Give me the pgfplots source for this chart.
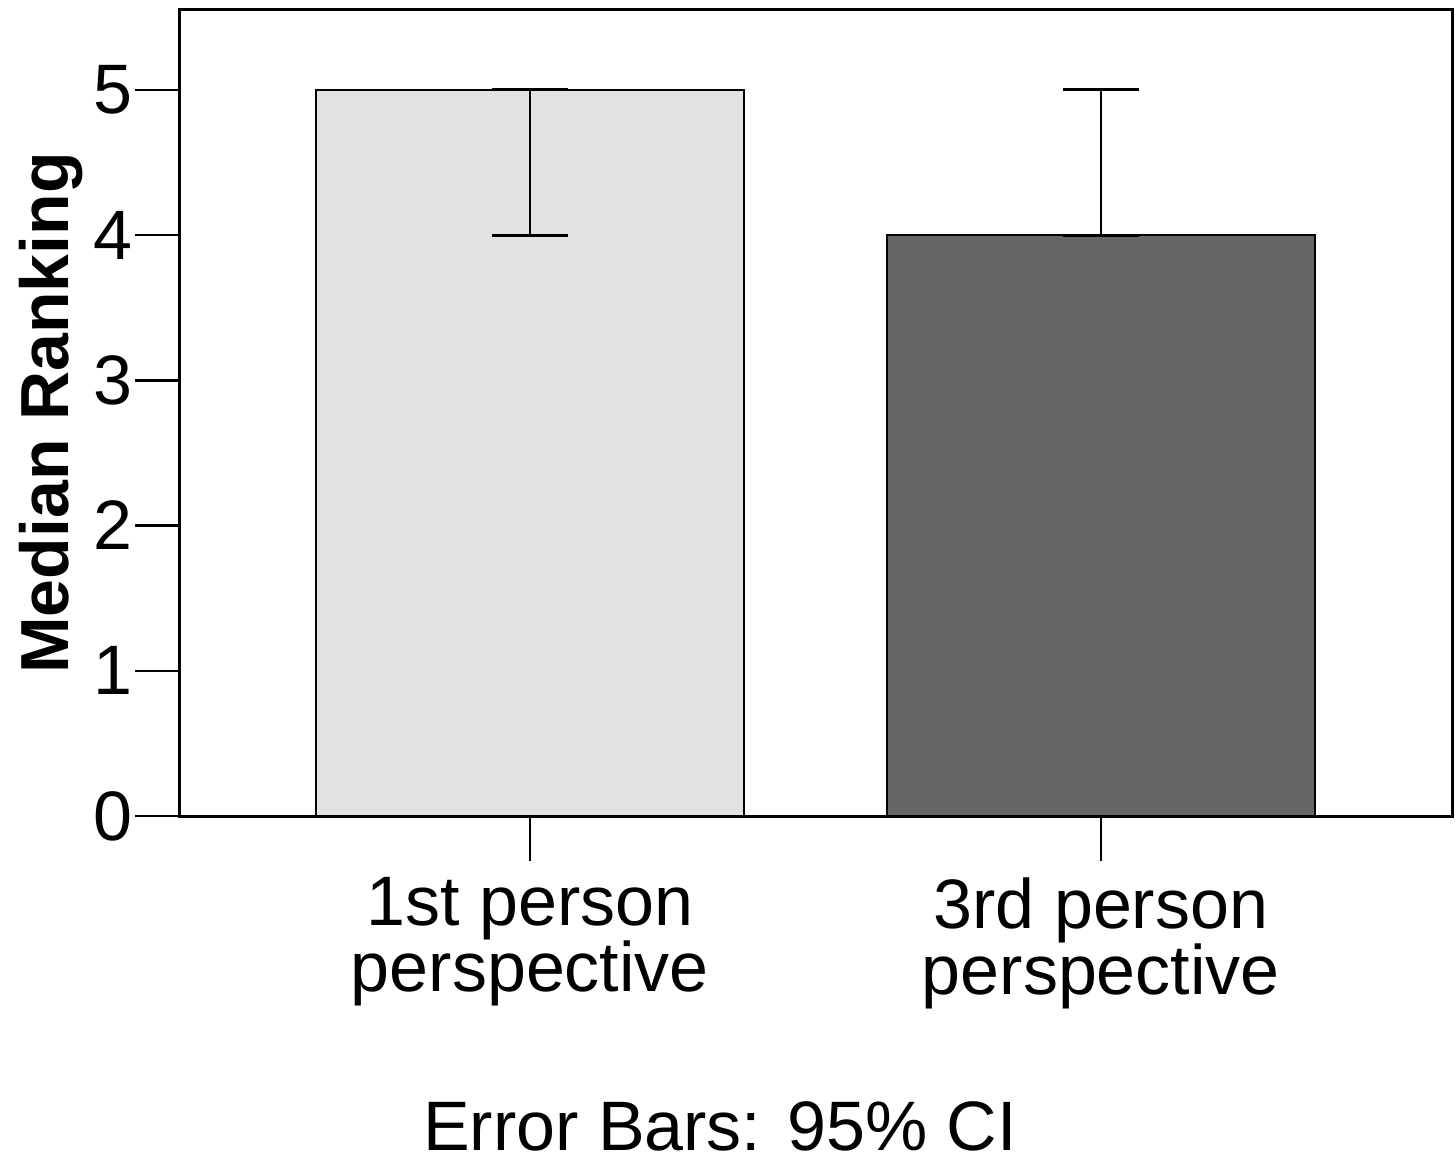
\documentclass[border=0pt]{standalone}
\usepackage{fontspec}
\setmainfont{Liberation Sans}
\usepackage{pgfplots}
\pgfplotsset{compat=1.18}
\definecolor{firstbar}{HTML}{E3E3E3}
\definecolor{thirdbar}{HTML}{666666}
\newcommand{\chartfont}{\fontsize{17.5}{16.5}\selectfont}
\begin{document}
\begin{tikzpicture}
\begin{axis}[
    scale only axis,
    width=318pt, height=201.5pt,
    xmin=-0.613, xmax=1.615,
    ymin=0, ymax=5.55,
    xtick={0,1},
    xticklabels={{1st person\\perspective},{3rd person\\perspective}},
    ytick={0,1,2,3,4,5},
    xtick pos=left, ytick pos=left,
    tick align=outside,
    major tick length=11.25pt,
    axis line style={line width=0.75pt},
    tick style={black, line width=0.6pt},
    /pgf/number format/assume math mode=true,
    tick label style={font=\chartfont},
    xticklabel style={align=center, inner sep=4pt},
    yticklabel style={inner sep=0.5pt},
    ylabel={Median Ranking},
    ylabel style={font=\bfseries\fontsize{17}{20}\selectfont,
        at={(axis description cs:-0.088,0.5)}, anchor=base},
]
% 1st person: median 5, CI 4 to 5
\addplot[ybar, bar width=107pt, bar shift=0pt, fill=firstbar, draw=black, line width=0.5pt,
    error bars/.cd, y dir=both, y explicit, error mark=|,
    error bar style={line width=0.5pt, black},
    error mark options={mark size=9.6pt, line width=0.75pt, black}]
    coordinates {(0,5) += (0,0) -= (0,1)};
% 3rd person: median 4, CI 4 to 5
\addplot[ybar, bar width=107pt, bar shift=0pt, fill=thirdbar, draw=black, line width=0.5pt,
    error bars/.cd, y dir=both, y explicit, error mark=|,
    error bar style={line width=0.5pt, black},
    error mark options={mark size=9.6pt, line width=0.75pt, black}]
    coordinates {(1,4) += (0,1) -= (0,0)};
\end{axis}
\node[anchor=base, inner sep=0pt, font=\chartfont] (note)
    at ([xshift=135pt,yshift=-83.5pt]current axis.south west) {Error Bars: 95\% CI};
\pgfresetboundingbox
\path[use as bounding box] ([xshift=-45pt,yshift=-2pt]current axis.south west |- note.south)
    rectangle ([xshift=0.75pt,yshift=2.5pt]current axis.north east);
\end{tikzpicture}
\end{document}
